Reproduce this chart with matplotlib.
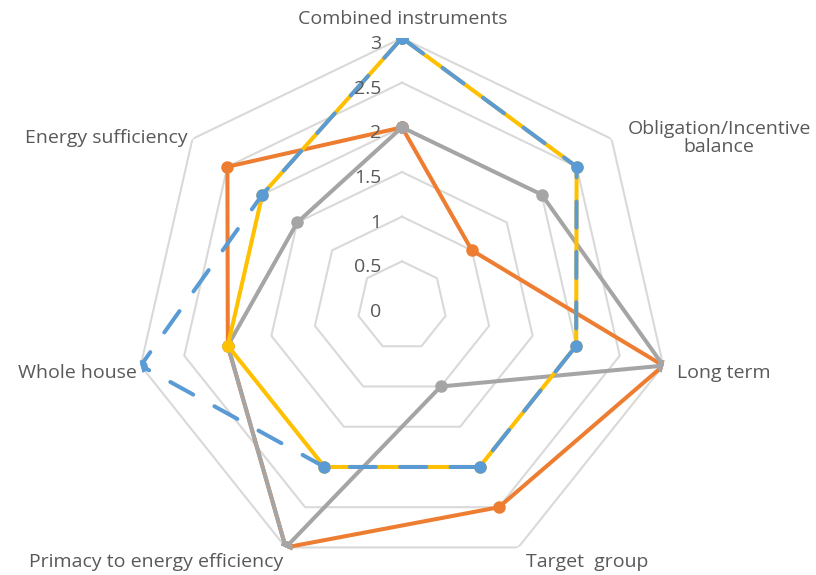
import numpy as np
import matplotlib.pyplot as plt

categories = ['Combined instruments', 'Obligation/Incentive\nbalance', 'Long term',
              'Target  group', 'Primacy to energy efficiency', 'Whole house',
              'Energy sufficiency']
orange = [2, 1, 3, 2.5, 3, 2, 2.5]
gray = [2, 2, 3, 1, 3, 2, 1.5]
yellow = [3, 2.5, 2, 2, 2, 2, 2]
blue = [3, 2.5, 2, 2, 2, 3, 2]
ticks = [0, 0.5, 1, 1.5, 2, 2.5, 3]

W, H = 816, 575
fig = plt.figure(figsize=(W / 100, H / 100), dpi=100)
cx, cy, R = 402, 306, 268
ax = fig.add_axes([(cx - R) / W, (H - cy - R) / H, 2 * R / W, 2 * R / H], polar=True)
ax.set_theta_offset(np.pi / 2)
ax.set_theta_direction(-1)
ax.set_ylim(0, 3)
ax.grid(False)
ax.spines['polar'].set_visible(False)
ax.set_xticks([])
ax.set_yticks([])
ax.patch.set_alpha(0)

n = len(categories)
theta = np.linspace(0, 2 * np.pi, n, endpoint=False)
tc = np.append(theta, theta[0])

# heptagon grid
for t in ticks[1:]:
    ax.plot(tc, [t] * (n + 1), color='#D9D9D9', lw=1.5, zorder=1)

txtc = '#595959'
fs = 14
for t in ticks:
    y = cy - t / 3 * R + 6
    fig.text(381 / W, 1 - y / H, f'{t:g}', ha='right', va='center', color=txtc, fontsize=fs,
             family='Open Sans')

def close(v):
    return list(v) + [v[0]]

lw, ms = 2.9, 8
ax.plot(tc, close(orange), color='#ED7D31', lw=lw, marker='o', ms=ms, zorder=3)
ax.plot(tc, close(gray), color='#A5A5A5', lw=lw, marker='o', ms=ms, zorder=4)
ax.plot(tc, close(yellow), color='#FFC000', lw=lw, marker='o', ms=ms, zorder=5)
ax.plot(tc, close(blue), color='#5B9BD5', lw=lw, marker='o', ms=ms, zorder=6,
        dashes=(6.5, 6), dash_capstyle='round')

# category labels (pixel positions)
lab_pos = [(403, 19, 'center'), (719, 138, 'center'), (677, 373, 'left'),
           (587, 562, 'center'), (283, 562, 'right'), (137, 373, 'right'),
           (188, 138, 'right')]
for name, (x, y, ha) in zip(categories, lab_pos):
    fig.text(x / W, 1 - y / H, name, ha=ha, va='center', color=txtc, fontsize=fs,
             family='Open Sans', multialignment='center', linespacing=1.05)

fig.savefig('out.png', dpi=100)
